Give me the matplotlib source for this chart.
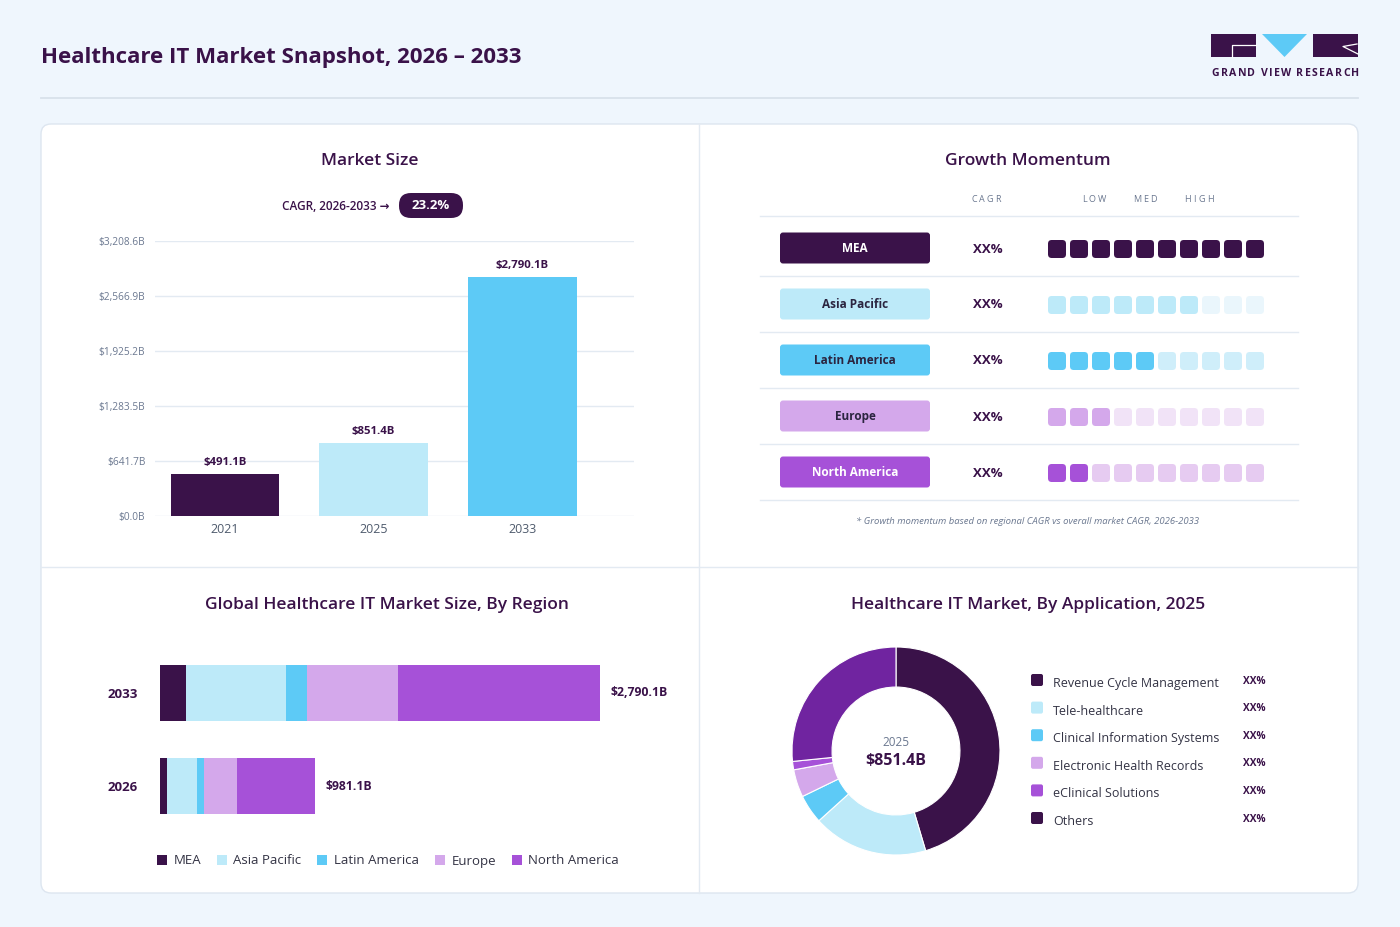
import matplotlib
matplotlib.use('Agg')
import matplotlib.pyplot as plt
from matplotlib.patches import FancyBboxPatch, Polygon, Rectangle
from matplotlib.font_manager import FontProperties

plt.rcParams['font.family'] = ['Open Sans', 'DejaVu Sans']

# ---- data ----
size_years = ['2021', '2025', '2033']
size_values = [491.1, 851.4, 2790.1]
size_ticks = [0.0, 641.7, 1283.5, 1925.2, 2566.9, 3208.6]
cagr_text = '23.2%'

regions = ['MEA', 'Asia Pacific', 'Latin America', 'Europe', 'North America']
momentum_filled = [10, 7, 5, 3, 2]
momentum_cagr = ['XX%', 'XX%', 'XX%', 'XX%', 'XX%']
momentum_levels = ['LOW', 'MED', 'HIGH']

stack_years = ['2033', '2026']
stack_mea = [164.5, 43.6]
stack_ap = [636.2, 188.7]
stack_la = [131.2, 46.0]
stack_eu = [580.3, 208.4]
stack_na = [1277.9, 494.4]
stack_totals = [2790.1, 981.1]

apps = ['Revenue Cycle Management', 'Tele-healthcare', 'Clinical Information Systems',
        'Electronic Health Records', 'eClinical Solutions', 'Others']
app_shares = [45.4, 17.9, 4.5, 4.3, 1.3, 26.6]
app_share_labels = ['XX%', 'XX%', 'XX%', 'XX%', 'XX%', 'XX%']
donut_year = '2025'
donut_total = '$851.4B'

# ---- colours ----
DARK = '#3A1249'
LBLUE = '#BDEAF9'
SKY = '#5DCAF6'
LAV = '#D4A8EB'
PURP = '#A651D8'
OTHERS = '#7024A0'
GREY = '#6B7890'
LINE = '#E3EAF2'
BG = '#EFF6FD'
region_colors = [DARK, LBLUE, SKY, LAV, PURP]
tint_colors = [DARK, '#EAF6FC', '#CFEEFA', '#F1E3F7', '#E6CBF1']
label_text_colors = ['white', '#2B2540', '#2B2540', '#2B2540', 'white']

W, H = 1400, 927
fig = plt.figure(figsize=(14, 9.27), dpi=100, facecolor=BG)


def px_axes(x0, y0, x1, y1):
    return fig.add_axes([x0 / W, 1 - y1 / H, (x1 - x0) / W, (y1 - y0) / H])


ov = fig.add_axes([0, 0, 1, 1], zorder=0)
ov.set_xlim(0, W)
ov.set_ylim(H, 0)
ov.axis('off')
ov.set_facecolor('none')

renderer = fig.canvas.get_renderer()


def spaced(x, y, s, gap, ha='center', **kw):
    fp = FontProperties(family=plt.rcParams['font.family'], size=kw.get('fontsize', 8),
                        weight=kw.get('fontweight', 'normal'))
    widths = [renderer.get_text_width_height_descent(c, fp, ismath=False)[0] for c in s]
    total = sum(widths) + gap * (len(s) - 1)
    cx = x - total / 2 if ha == 'center' else x
    for c, w in zip(s, widths):
        ov.text(cx, y, c, ha='left', va='center', **kw)
        cx += w + gap


# header
ov.text(41, 57, 'Healthcare IT Market Snapshot, 2026 \u2013 2033', fontsize=16,
        fontweight='bold', color=DARK, va='center', ha='left')
ov.plot([41, 1358], [98, 98], color='#D8E1EB', lw=1.3)

# logo
ov.add_patch(Rectangle((1211, 34), 45, 23, fc=DARK, ec='none'))
ov.plot([1256, 1232, 1232], [45, 45, 57], color='white', lw=0.9)
ov.add_patch(Polygon([(1262, 34), (1307, 34), (1284.5, 57)], fc=SKY, ec='none'))
ov.add_patch(Rectangle((1313, 34), 45, 23, fc=DARK, ec='none'))
ov.plot([1357, 1343, 1358], [44, 46.5, 54], color='white', lw=0.9)
spaced(1285.5, 73, 'GRAND VIEW RESEARCH', 1.3, fontsize=7.6, fontweight='bold', color=DARK)

# card
ov.add_patch(FancyBboxPatch((41, 124), 1317, 769, boxstyle='round,pad=0,rounding_size=10',
                            fc='white', ec='#DDE6F0', lw=1))
ov.plot([699, 699], [124, 893], color=LINE, lw=1)
ov.plot([41, 1358], [567, 567], color=LINE, lw=1)

title_kw = dict(fontsize=12.5, color=DARK, ha='center', va='center', fontweight='semibold')
ov.text(370, 161, 'Market Size', **title_kw)
ov.text(1028, 161, 'Growth Momentum', **title_kw)
ov.text(387, 605, 'Global Healthcare IT Market Size, By Region', **title_kw)
ov.text(1028, 605, 'Healthcare IT Market, By Application, 2025', **title_kw)

# ---- market size ----
ov.text(390, 206, 'CAGR, 2026-2033 \u2192', fontsize=8.5, fontweight='semibold', color=DARK,
        ha='right', va='center')
ov.add_patch(FancyBboxPatch((399, 193), 64, 25, boxstyle='round,pad=0,rounding_size=12',
                            fc=DARK, ec='none'))
ov.text(431, 205.5, cagr_text, fontsize=9.5, fontweight='bold', color='white',
        ha='center', va='center')

ax_m = px_axes(155, 241, 634, 516)
ax_m.set_facecolor('none')
xs = range(len(size_years))
ax_m.bar(xs, size_values, width=0.73, color=[DARK, LBLUE, SKY], zorder=3)
for i, v in zip(xs, size_values):
    ax_m.annotate(f'${v:,.1f}B', (i, v), xytext=(0, 4), textcoords='offset points',
                  ha='center', va='bottom', fontsize=8.2, fontweight='bold', color=DARK)
ax_m.set_xlim(-0.47, 2.75)
ax_m.set_ylim(0, size_ticks[-1])
ax_m.set_yticks(size_ticks)
ax_m.set_yticklabels([f'${t:,.1f}B' for t in size_ticks], fontsize=7.3, color=GREY)
ax_m.set_xticks(list(xs))
ax_m.set_xticklabels(size_years, fontsize=9, color='#4F5B6D')
ax_m.tick_params(length=0)
ax_m.tick_params(axis='y', pad=7)
ax_m.tick_params(axis='x', pad=5)
ax_m.grid(axis='y', color=LINE, lw=1, zorder=0)
for s in ax_m.spines.values():
    s.set_visible(False)

# ---- growth momentum ----
spaced(986, 199, 'CAGR', 2.2, fontsize=6.5, color=GREY)
for lab, x in zip(momentum_levels, [1094, 1145, 1199]):
    spaced(x, 199, lab, 2.2, fontsize=6.5, color=GREY)
ov.plot([760, 1298], [216, 216], color=LINE, lw=1)
for r, reg in enumerate(regions):
    yc = 248 + 56 * r
    ov.plot([760, 1298], [yc + 28, yc + 28], color=LINE, lw=1)
    ov.add_patch(FancyBboxPatch((780, yc - 15.5), 150, 31, boxstyle='round,pad=0,rounding_size=3',
                                fc=region_colors[r], ec='none'))
    ov.text(855, yc, reg, fontsize=8.5, fontweight='bold', color=label_text_colors[r],
            ha='center', va='center')
    ov.text(988, yc + 1, momentum_cagr[r], fontsize=9.5, fontweight='bold', color=DARK,
            ha='center', va='center')

ax_g = px_axes(1048, 220, 1268, 500)
ax_g.set_xlim(0, 10)
ax_g.set_ylim(5, 0)
ax_g.axis('off')
for r, n in enumerate(momentum_filled):
    for i in range(10):
        col = region_colors[r] if i < n else tint_colors[r]
        ax_g.add_patch(FancyBboxPatch((i, r + 0.5 - 9 / 56 + 1 / 56), 18 / 22, 18 / 56,
                                      boxstyle='round,pad=0,rounding_size=0.17',
                                      mutation_aspect=22 / 56, fc=col, ec='none'))
ov.text(1028, 522, '* Growth momentum based on regional CAGR vs overall market CAGR, 2026-2033',
        fontsize=6.8, style='italic', color=GREY, ha='center', va='center')

# ---- stacked region bars ----
ax_s = px_axes(160, 646.5, 700, 832.5)
ax_s.set_facecolor('none')
ys = range(len(stack_years))
left = [0.0, 0.0]
for vals, col, name in zip([stack_mea, stack_ap, stack_la, stack_eu, stack_na], region_colors, regions):
    ax_s.barh(ys, vals, left=left, height=0.602, color=col, label=name)
    left = [a + b for a, b in zip(left, vals)]
for i, t in zip(ys, stack_totals):
    ax_s.annotate(f'${t:,.1f}B', (t, i), xytext=(7.5, 0), textcoords='offset points',
                  ha='left', va='center', fontsize=8.8, fontweight='bold', color=DARK)
ax_s.set_xlim(0, stack_totals[0] * 540 / 440)
ax_s.set_ylim(1.5, -0.5)
ax_s.set_yticks(list(ys))
ax_s.set_yticklabels(stack_years, fontsize=9.5, fontweight='bold', color=DARK)
ax_s.set_xticks([])
ax_s.tick_params(length=0, pad=16)
for s in ax_s.spines.values():
    s.set_visible(False)
handles, labels = ax_s.get_legend_handles_labels()
fig.legend(handles, labels, loc='center', bbox_to_anchor=(388 / W, 1 - 861 / H), ncol=5,
           frameon=False, fontsize=9.5, handlelength=0.75, handleheight=0.75,
           handletextpad=0.5, columnspacing=1.2, labelcolor='#333344')

# ---- donut ----
ax_d = px_axes(792, 647, 1000, 855)
ax_d.pie(app_shares, colors=[DARK, LBLUE, SKY, LAV, PURP, OTHERS], startangle=90,
         counterclock=False, radius=1,
         wedgeprops=dict(width=0.385, edgecolor='white', linewidth=0.8))
ax_d.set_xlim(-1, 1)
ax_d.set_ylim(-1, 1)
ax_d.text(0, 0.08, donut_year, ha='center', va='center', fontsize=8.5, color=GREY)
ax_d.text(0, -0.1, donut_total, ha='center', va='center', fontsize=11.5, fontweight='bold', color=DARK)

legend_cols = [DARK, LBLUE, SKY, LAV, PURP, DARK]
for k, (app, lab) in enumerate(zip(apps, app_share_labels)):
    y = 680 + 27.6 * k
    ov.add_patch(FancyBboxPatch((1031, y - 6), 12, 12, boxstyle='round,pad=0,rounding_size=2',
                                fc=legend_cols[k], ec='none'))
    ov.text(1053, y + 3.5, app, fontsize=9, color='#333344', ha='left', va='center')
    ov.text(1254, y + 1, lab, fontsize=7.3, fontweight='bold', color=DARK, ha='center', va='center')

fig.savefig('out.png', dpi=100, facecolor=BG)
